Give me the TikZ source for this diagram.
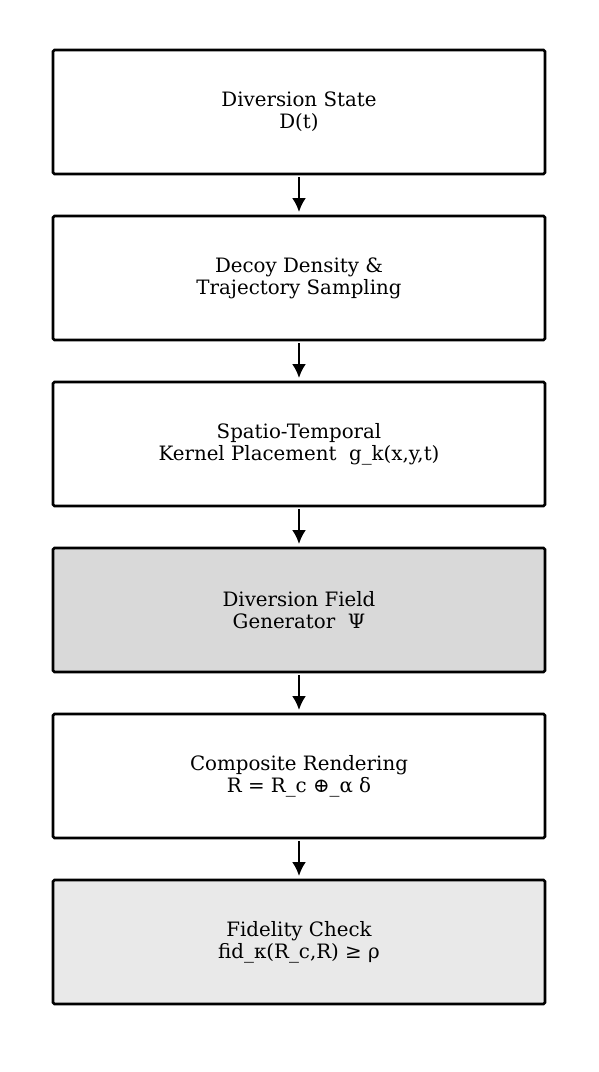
\documentclass[tikz,border=0pt]{standalone}
\usepackage{fontspec}
\setmainfont{DejaVu Serif}
\usetikzlibrary{positioning,arrows.meta}
\tikzset{
    stagebox/.style={draw, line width=2.6pt, rounded corners=1.5pt, minimum width=492pt, minimum height=124pt, align=center, font=\fontsize{19.8}{22}\selectfont, inner sep=0pt, outer sep=0pt},
    flow/.style={-{Latex[length=14pt,width=14pt]}, line width=2.3pt, shorten <=3pt, shorten >=4pt}
}
\definecolor{fieldgray}{HTML}{D9D9D9}
\definecolor{checkgray}{HTML}{E9E9E9}
\begin{document}
\begin{tikzpicture}[x=1pt, y=-1pt]
        \useasboundingbox (0, 0) rectangle (599, 1072);
        \node[stagebox] (state) at (299, 112) {Diversion State\\D(t)};
        \node[stagebox, below=42pt of state] (decoy) {Decoy Density \&\\Trajectory Sampling};
        \node[stagebox, below=42pt of decoy] (kernel) {Spatio-Temporal\\Kernel Placement\ \ g\_k(x,y,t)};
        \node[stagebox, fill=fieldgray, below=42pt of kernel] (field) {Diversion Field\\Generator\ \ Ψ};
        \node[stagebox, below=42pt of field] (render) {Composite Rendering\\R = R\_c ⊕\_α δ};
        \node[stagebox, fill=checkgray, below=42pt of render] (check) {Fidelity Check\\fid\_κ(R\_c,R) ≥ ρ};
        \draw[flow] (state) -- (decoy);
        \draw[flow] (decoy) -- (kernel);
        \draw[flow] (kernel) -- (field);
        \draw[flow] (field) -- (render);
        \draw[flow] (render) -- (check);
    \end{tikzpicture}
\end{document}
